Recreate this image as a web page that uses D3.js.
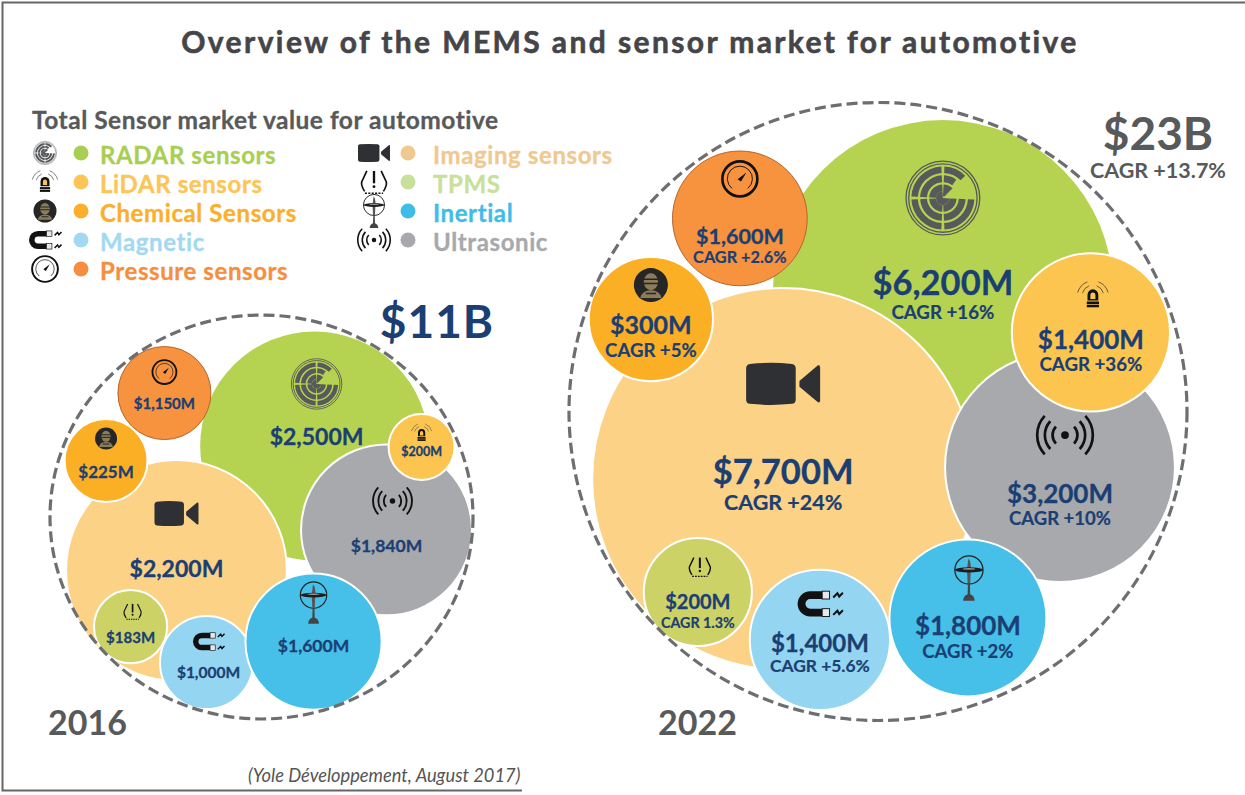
<!DOCTYPE html>
<html>
<head>
<meta charset="utf-8">
<script src="https://cdn.jsdelivr.net/npm/d3@7"></script>
<style>
html, body { margin: 0; padding: 0; background: #fff; }
svg { display: block; }
text { font-family: Lato, "Open Sans", sans-serif; font-weight: 700; }
</style>
</head>
<body>
<svg id="chart"></svg>
<script>
/*DATA
------------------------------------------------------
*/
const categories = ["radar", "imaging", "ultrasonic", "lidar", "pressure", "chemical", "tpms", "magnetic", "inertial"];
const legendLabels = ["RADAR sensors", "Imaging sensors", "Ultrasonic", "LiDAR sensors", "Pressure sensors", "Chemical Sensors", "TPMS", "Magnetic", "Inertial"];
const values2016 = [2500, 2200, 1840, 200, 1150, 225, 183, 1000, 1600];
const values2022 = [6200, 7700, 3200, 1400, 1600, 300, 200, 1400, 1800];
const cagr2022 = ["+16%", "+24%", "+10%", "+36%", "+2.6%", "+5%", "1.3%", "+5.6%", "+2%"];
const totals = ["$11B", "$23B"];
const totalCagr = "CAGR +13.7%";
const years = ["2016", "2022"];
const titleText = "Overview of the MEMS and sensor market for automotive";
const legendTitle = "Total Sensor market value for automotive";
const sourceText = "(Yole Développement, August 2017)";

/*STYLE AND LAYOUT
------------------------------------------------------
*/
const width = 1245, height = 795;
const navy = "#1b3f73", grey = "#58595b";
const bubbleColors = ["#b5d350", "#fcd287", "#a7a9ac", "#fcc54f", "#f7923e", "#fbaf25", "#cdd266", "#94d6f1", "#46c0e9"];
const legendColors = ["#a9cf52", "#efc98f", "#a7a9ac", "#fcc555", "#f58f3f", "#fbaf2c", "#c9e09b", "#a3d9f0", "#3fbde8"];

// legend order: two columns, [category, column, row]
const legendOrder = [["radar",0,0],["lidar",0,1],["chemical",0,2],["magnetic",0,3],["pressure",0,4],
	["imaging",1,0],["tpms",1,1],["inertial",1,2],["ultrasonic",1,3]];
const legendRows = d3.scaleLinear().domain([0,4]).range([153,269]);
const legendIconSize = {radar:12, lidar:15, chemical:11.5, magnetic:16.5, pressure:14, imaging:16, tpms:13, inertial:12, ultrasonic:17.5};

// the bubbles of the original are hand placed and not to scale with the values,
// so each one is read off the picture: center and radius in units of the pool radius (u,v,k),
// then the label and icon offsets from the bubble center in pixels
function b(u,v,k,tx,ty,fs,cy,cs,ix,iy,is){ return {u,v,k,tx,ty,fs,cy,cs,ix,iy,is}; }
const layout2016 = [
	b(.251,-.336,.541, 2,-1,23, 0,0,  2,-62,26),
	b(-.402,.253,.522, 0,6.5,23, 0,0,  0,-57,22),
	b(.591,.061,.404,  0,22,17.5, 0,0, 6,-29,21),
	b(.757,-.331,.156, 0,9,12.5, 0,0,  0,-14,12),
	b(-.459,-.586,.22, 0,16,15, 0,0,   0,-21,13),
	b(-.735,-.267,.196, 0,17,17, 0,0,  0,-22,11),
	b(-.619,.518,.173, 0,16.5,15, 0,0, 2,-15,9),
	b(-.26,.688,.22,   2,15.5,15.5, 0,0, 2,-21,16),
	b(.246,.589,.322,  0,10.5,17.5, 0,0, 0,-39,15)
];
const layout2022 = [
	b(.21,-.393,.55,   0,5,34.5, 29,18.7, 0,-92,38),
	b(-.307,.218,.618, 0,5,34.5, 31,21.5, 0,-95,37),
	b(.589,.18,.372,   0,36,26, 58,18.5,  5,-32,30),
	b(.689,-.256,.256, 0,17,26, 39,18.7,  2,-37,18),
	b(-.447,-.625,.218, 0,25.5,21.5, 44.5,16.3, 0,-39.5,19),
	b(-.735,-.299,.201, 0,15,25, 38,18.6, 0,-34,17),
	b(-.583,.584,.175, 0,17,20, 36,14.3,  2,-25,11),
	b(-.188,.739,.227, 0,12,24, 32,17.4, 0,-36,23),
	b(.291,.668,.254,  0,17,26, 40,18.5,  1,-40,16)
];

// the 2016 outline is a little flattened in the original, poolRy is its height as part of the width
const pools = [
	{values: values2016, layout: layout2016, extentX: [50,473], extentY: [305.5,728.5], poolRy: .955},
	{values: values2022, layout: layout2022, extentX: [569,1187], extentY: [102.5,720.5], poolRy: 1}
];

/*SVG
------------------------------------------------------
*/
const svg = d3.select("#chart").attr("width", width).attr("height", height);
svg.append("rect").attr("width", width).attr("height", height).attr("fill", "#fff");

// frame of the slide
svg.append("path")
	.attr("d", "M1245,2.5H2.5V790.5H522")
	.attr("fill", "none").attr("stroke", "#666").attr("stroke-width", 2);

svg.append("text").attr("x", 630).attr("y", 53)
	.attr("text-anchor", "middle")
	.attr("font-size", 30).attr("letter-spacing", 2.4)
	.attr("stroke", "#454549").attr("stroke-width", .6)
	.attr("fill", "#454549").text(titleText);

/*ICONS, drawn in a box of half width 1
------------------------------------------------------
*/
const ink = "#111";
const arc = d3.arc();
function ringBand(g, r0, r1, a0, a1, color){
	g.append("path").attr("fill", color)
		.attr("d", arc({innerRadius:r0, outerRadius:r1, startAngle:a0, endAngle:a1}));
}
const icons = {
	radar(g){
		const c = "#58595b", gap = .05, P = Math.PI;
		g.append("circle").attr("r", .97).attr("fill","none").attr("stroke",c).attr("stroke-width",.035);
		g.append("circle").attr("r", .9).attr("fill","none").attr("stroke",c).attr("stroke-width",.035);
		[[.66,.83],[.42,.6],[.18,.36]].forEach(function(band){
			ringBand(g, band[0], band[1], P/2+gap, P-gap, c);
			ringBand(g, band[0], band[1], P+gap, 1.5*P-gap, c);
			ringBand(g, band[0], band[1], 1.5*P+gap, 2*P-gap, c);
		});
		ringBand(g, .0, .18, P/2+gap, 2*P-gap, c);
		ringBand(g, .66, .83, gap, P/4, c);
		ringBand(g, .42, .6, gap, P/5, c);
		ringBand(g, .05, .36, gap, P/4, c);
	},
	imaging(g){
		g.append("path").attr("fill","#2f3033")
			.attr("d","M-.9,-.54Q-.33,-.6 .24,-.54Q.34,-.52 .34,-.42V.42Q.34,.52 .24,.54Q-.33,.6 -.9,.54Q-1,.52 -1,.42V-.42Q-1,-.52 -.9,-.54Z");
		g.append("path").attr("fill","#2f3033").attr("d","M.44,-.08L.94,-.5Q1,-.52 1,-.44V.44Q1,.52 .94,.5L.44,.08Z");
	},
	ultrasonic(g){
		g.append("circle").attr("r",.13).attr("fill",ink);
		[.42,.68,.94].forEach(function(r){
			const x = r*.72, y = r*.68;
			g.append("path").attr("fill","none").attr("stroke",ink).attr("stroke-width",.09)
				.attr("d",`M${x},${-y}A${r},${r} 0 0 1 ${x},${y}M${-x},${-y}A${r},${r} 0 0 0 ${-x},${y}`);
		});
	},
	lidar(g){
		g.append("path").attr("fill",ink).attr("d","M-.3,.28V-.02A.3,.32 0 0 1 .3,-.02V.28Z");
		g.append("path").attr("fill","#fcc54f").attr("d","M-.14,.2V0A.14,.16 0 0 1 .14,0V.2Z");
		g.append("rect").attr("x",-.34).attr("y",.34).attr("width",.68).attr("height",.14).attr("fill",ink);
		g.append("rect").attr("x",-.34).attr("y",.52).attr("width",.68).attr("height",.14).attr("fill",ink);
		[.62,.9].forEach(function(r){
			g.append("path").attr("fill","none").attr("stroke","#444").attr("stroke-width",.045)
				.attr("d",`M${r*.34},${-r*.78-.05}A${r},${r} 0 0 1 ${r*.94},${-r*.12-.05}M${-r*.34},${-r*.78-.05}A${r},${r} 0 0 0 ${-r*.94},${-r*.12-.05}`);
		});
	},
	pressure(g){
		g.append("circle").attr("r",.92).attr("fill","none").attr("stroke",ink).attr("stroke-width",.14);
		g.append("path").attr("fill","none").attr("stroke",ink).attr("stroke-width",.05)
			.attr("d","M-.42,.5A.66,.66 0 1 1 .42,.5");
		g.append("path").attr("fill",ink).attr("d","M.34,-.34L.06,.14L-.12,.02Z");
	},
	chemical(g){
		g.append("circle").attr("r",1).attr("fill","#262626");
		g.append("ellipse").attr("cy",-.2).attr("rx",.42).attr("ry",.5).attr("fill","#8b7c5a");
		g.append("path").attr("fill","#8b7c5a").attr("d","M-.62,.76Q-.55,.32 0,.3Q.55,.32 .62,.76Z");
		g.append("path").attr("fill","none").attr("stroke","#262626").attr("stroke-width",.09)
			.attr("d","M-.42,-.34H.42M-.42,-.1H.42M-.3,.5H.3");
	},
	tpms(g){
		g.append("path").attr("fill","none").attr("stroke",ink).attr("stroke-width",.13)
			.attr("d","M-.55,-.85L-.95,0Q-1,.3 -.72,.72M.55,-.85L.95,0Q1,.3 .72,.72");
		g.append("path").attr("fill","none").attr("stroke",ink).attr("stroke-width",.12).attr("stroke-dasharray",".16 .1")
			.attr("d","M-.7,.86H.7");
		g.append("rect").attr("x",-.09).attr("y",-.85).attr("width",.18).attr("height",.95).attr("fill",ink);
		g.append("circle").attr("cy",.36).attr("r",.11).attr("fill",ink);
	},
	magnetic(g){
		g.append("path").attr("fill","none").attr("stroke",ink).attr("stroke-width",.34)
			.attr("d","M.1,-.38H-.42A.38,.38 0 0 0 -.42,.38H.1");
		[-.38,.38].forEach(function(y){
			g.append("rect").attr("x",.1).attr("y",y-.17).attr("width",.32).attr("height",.34)
				.attr("fill","#e8e8e8").attr("stroke",ink).attr("stroke-width",.04);
			g.append("path").attr("fill","none").attr("stroke",ink).attr("stroke-width",.09)
				.attr("d",`M.58,${y+.1}L.76,${y-.08}L.84,${y+.06}L1,${y-.1}`);
		});
	},
	inertial(g){
		g.append("circle").attr("cy",-.5).attr("r",.88).attr("fill","none").attr("stroke","#222").attr("stroke-width",.08);
		g.append("path").attr("fill","#555").attr("d","M-.12,-.5L-.04,-1.2Q.14,-1.1 .12,-.5L.08,.34H-.08Z");
		g.append("ellipse").attr("cy",-.5).attr("rx",.86).attr("ry",.16).attr("fill","#1d1d1d");
		g.append("ellipse").attr("cy",-.56).attr("rx",.4).attr("ry",.04).attr("fill","#bbb");
		g.append("path").attr("fill","#444").attr("d","M-.06,.34H.06L.08,1.02Q.34,1.1 .36,1.42H-.36Q-.34,1.1 -.08,1.02Z");
	}
};

function drawIcon(parent, id, x, y, size){
	const g = parent.append("g").attr("transform", `translate(${x},${y}) scale(${size})`);
	icons[id](g);
}

/*LEGEND
------------------------------------------------------
*/
const legend = svg.append("g");
legend.append("text").attr("x", 32).attr("y", 128.5)
	.attr("font-size", 24.5).attr("letter-spacing", .5)
	.attr("stroke", grey).attr("stroke-width", .3)
	.attr("fill", grey).text(legendTitle);

legendOrder.forEach(function(row){
	const i = categories.indexOf(row[0]);
	const col = row[1];
	const y = legendRows(row[2]);
	drawIcon(legend, row[0], col ? 374 : 45, y, legendIconSize[row[0]]);
	legend.append("circle").attr("cx", col ? 408 : 81).attr("cy", y).attr("r", 7.5).attr("fill", legendColors[i]);
	legend.append("text").attr("x", col ? 433 : 100).attr("y", y + 10.5)
		.attr("font-size", 24).attr("letter-spacing", .6)
		.attr("stroke", legendColors[i]).attr("stroke-width", .3)
		.attr("fill", legendColors[i]).text(legendLabels[i]);
});

/*BUBBLES
------------------------------------------------------
*/
const money = d3.format("$,");
pools.forEach(function(pool){
	const x = d3.scaleLinear().domain([-1,1]).range(pool.extentX);
	const y = d3.scaleLinear().domain([-1,1]).range(pool.extentY);
	const r = d3.scaleLinear().domain([0,1]).range([0,(pool.extentX[1]-pool.extentX[0])/2]);
	const rows = categories.map(function(c,i){
		return {id:c, value:pool.values[i], cagr:cagr2022[i], color:bubbleColors[i], l:pool.layout[i]};
	});

	const g = svg.append("g");
	g.selectAll("circle.bubble")
		.data(rows).enter().append("circle")
		.attr("class","bubble")
		.attr("cx", d => x(d.l.u))
		.attr("cy", d => y(d.l.v))
		.attr("r", d => r(d.l.k))
		.attr("fill", d => d.color)
		.attr("stroke", d => d.id == "radar" ? "none" : d.id == "pressure" ? "#b3672e" : "#fff")
		.attr("stroke-width", d => d.id == "pressure" ? 1 : 2);

	// dashed outline of the whole market
	g.append("ellipse")
		.attr("cx", x(0)).attr("cy", y(0)).attr("rx", r(1)).attr("ry", r(pool.poolRy))
		.attr("fill","none").attr("stroke","#6d6e71").attr("stroke-width",3.2)
		.attr("stroke-dasharray","11 5");

	rows.forEach(function(d){
		const cx = x(d.l.u), cy = y(d.l.v);
		drawIcon(g, d.id, cx + d.l.ix, cy + d.l.iy, d.l.is);
		g.append("text").attr("x", cx + d.l.tx).attr("y", cy + d.l.ty)
			.attr("text-anchor","middle").attr("font-size", d.l.fs)
			.attr("stroke", navy).attr("stroke-width", .3).attr("fill", navy)
			.text(money(d.value) + "M");
		if (d.l.cs) {
			g.append("text").attr("x", cx + d.l.tx).attr("y", cy + d.l.cy)
				.attr("text-anchor","middle").attr("font-size", d.l.cs)
				.attr("stroke", navy).attr("stroke-width", .2).attr("fill", navy)
				.text("CAGR " + d.cagr);
		}
	});
});

/*TOTALS, YEARS, SOURCE
------------------------------------------------------
*/
svg.append("text").attr("x", 437).attr("y", 338).attr("text-anchor","middle")
	.attr("font-size", 46).attr("letter-spacing", 1).attr("fill", navy).text(totals[0]);
svg.append("text").attr("x", 1158).attr("y", 150).attr("text-anchor","middle")
	.attr("font-size", 46).attr("fill", grey).text(totals[1]);
svg.append("text").attr("x", 1158).attr("y", 178).attr("text-anchor","middle")
	.attr("font-size", 21.5).attr("fill", grey).text(totalCagr);
svg.append("text").attr("x", 48).attr("y", 735).attr("font-size", 34).attr("fill", grey).text(years[0]);
svg.append("text").attr("x", 658).attr("y", 735).attr("font-size", 34).attr("fill", grey).text(years[1]);
svg.append("text").attr("x", 248).attr("y", 782).attr("font-size", 18.3)
	.style("font-weight", 400).style("font-style", "italic").attr("fill", "#555").text(sourceText);
</script>
</body>
</html>
